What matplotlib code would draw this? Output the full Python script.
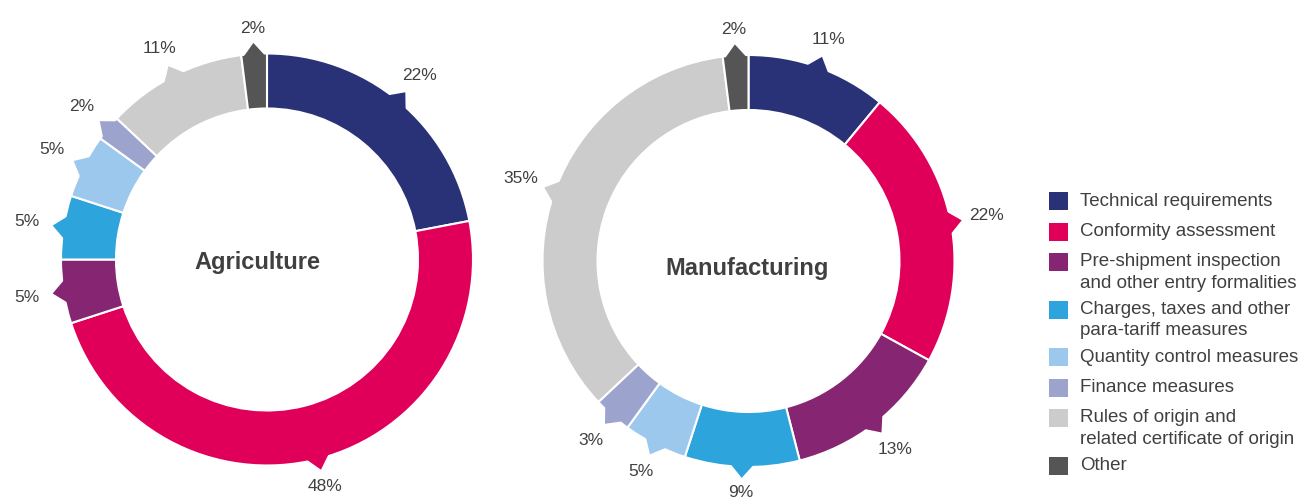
import numpy as np
import matplotlib.pyplot as plt
from matplotlib.patches import Polygon, Rectangle

plt.rcParams['font.family'] = ['Liberation Sans', 'DejaVu Sans']

# Measure categories (legend order = wedge order, clockwise from 12 o'clock)
categories = ['Technical requirements',
              'Conformity assessment',
              'Pre-shipment inspection\nand other entry formalities',
              'Charges, taxes and other\npara-tariff measures',
              'Quantity control measures',
              'Finance measures',
              'Rules of origin and\nrelated certificate of origin',
              'Other']
colors = ['#2a3277', '#e0005a', '#862571', '#2ea4dc',
          '#9dc8ee', '#9ca4ce', '#cccccc', '#555555']

# shares in percent
agriculture = [22, 48, 5, 5, 5, 2, 11, 2]
manufacturing = [11, 22, 13, 9, 5, 3, 35, 2]

text_color = '#404040'
W, H = 1301, 498

fig = plt.figure(figsize=(W / 100, H / 100), dpi=100)
ax = fig.add_axes([0, 0, 1, 1])


def donut(ax, values, cx, cy, title, title_xy, r=206, width=55):
    '''
    Ring chart with a small pointer and a percent label on every wedge.
    cx, cy are given in pixels from the top-left corner.
    '''
    cy = H - cy
    ax.pie(values, colors=colors, startangle=90, counterclock=False,
           radius=r, center=(cx, cy),
           wedgeprops=dict(width=width, edgecolor='white', linewidth=1.5))

    total = float(sum(values))
    start = 0.0
    for v, c in zip(values, colors):
        theta = 2 * np.pi * (start + v / 2.0) / total   # clockwise from top
        half = np.radians(min(3.2, 0.42 * 360 * v / total))
        rb, rt = r - 2, r + 11
        pts = [(cx + rb * np.sin(theta - half), cy + rb * np.cos(theta - half)),
               (cx + rt * np.sin(theta), cy + rt * np.cos(theta)),
               (cx + rb * np.sin(theta + half), cy + rb * np.cos(theta + half))]
        ax.add_patch(Polygon(pts, closed=True, facecolor=c, edgecolor='none', zorder=3))

        rl = 231 + 12 * abs(np.sin(theta))
        ax.text(cx + rl * np.sin(theta), cy + rl * np.cos(theta), f'{v}%',
                ha='center', va='center', fontsize=12.5, color=text_color)
        start += v

    ax.text(title_xy[0], H - title_xy[1], title, ha='center', va='center',
            fontsize=17, fontweight='bold', color=text_color)


donut(ax, agriculture, 267, 259.5, 'Agriculture', (257, 263))
donut(ax, manufacturing, 748.5, 261, 'Manufacturing', (747, 268))

# legend drawn by hand so multi-line entries line up with their first line
y = 201
for label, c in zip(categories, colors):
    lines = label.split('\n')
    ax.add_patch(Rectangle((1049, H - y - 9), 19, 18, facecolor=c, edgecolor='none'))
    for i, line in enumerate(lines):
        ax.text(1080, H - (y + 21 * i), line, ha='left', va='center',
                fontsize=13.5, color=text_color)
    y += 30.5 + 17 * (len(lines) - 1)

ax.set_xlim(0, W)
ax.set_ylim(0, H)
ax.set_aspect('equal')
ax.axis('off')

fig.savefig('out.png', dpi=100, facecolor='white')
